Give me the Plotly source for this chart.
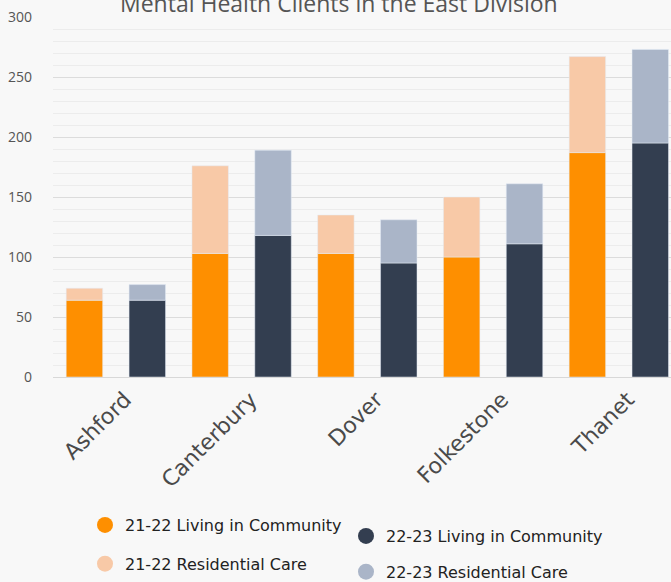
import plotly.graph_objects as go

categories = ["Ashford", "Canterbury", "Dover", "Folkestone", "Thanet"]
liv_2122 = [64, 103, 103, 100, 187]
res_2122 = [10, 73, 32, 50, 80]
liv_2223 = [64, 118, 95, 111, 195]
res_2223 = [13, 71, 36, 50, 78]

C_ORANGE = "#fe8f00"
C_PEACH = "#f8c9a7"
C_NAVY = "#333e50"
C_STEEL = "#aab5c8"

fig = go.Figure()
fig.add_trace(go.Bar(x=categories, y=liv_2122, offsetgroup="a", marker_color=C_ORANGE,
                     showlegend=False, name="21-22 Living in Community"))
fig.add_trace(go.Bar(x=categories, y=res_2122, offsetgroup="a", base=liv_2122, marker_color=C_PEACH,
                     showlegend=False, name="21-22 Residential Care"))
fig.add_trace(go.Bar(x=categories, y=liv_2223, offsetgroup="b", marker_color=C_NAVY,
                     showlegend=False, name="22-23 Living in Community"))
fig.add_trace(go.Bar(x=categories, y=res_2223, offsetgroup="b", base=liv_2223, marker_color=C_STEEL,
                     showlegend=False, name="22-23 Residential Care"))

legend_items = [
    ("21-22 Living in Community", C_ORANGE, "legend", "g1"),
    ("21-22 Residential Care", C_PEACH, "legend", "g2"),
    ("22-23 Living in Community", C_NAVY, "legend2", "g3"),
    ("22-23 Residential Care", C_STEEL, "legend2", "g4"),
]
for name, col, leg, grp in legend_items:
    fig.add_trace(go.Scatter(x=[categories[0]], y=[None], mode="markers", name=name,
                             marker=dict(color=col, size=24, symbol="circle"),
                             legend=leg, legendgroup=grp, showlegend=True, hoverinfo="skip"))

legfont = dict(family="DejaVu Sans", size=16, color="#222")
fig.update_layout(
    width=671, height=582,
    margin=dict(l=53, r=0, t=17, b=205, autoexpand=False),
    paper_bgcolor="#f8f8f8", plot_bgcolor="#f8f8f8",
    barmode="overlay",
    bargap=0.0, bargroupgap=0.42,
    title=dict(text="Mental Health Clients in the East Division",
               font=dict(family="Open Sans", size=23, color="#555"),
               x=0.505, xanchor="center", xref="container",
               y=1 - 4 / 582, yanchor="middle", yref="container"),
    xaxis=dict(type="category", categoryorder="array", categoryarray=categories,
               range=[-0.5, 4.415], tickangle=-45, automargin=False,
               tickfont=dict(family="DejaVu Sans", size=22, color="#4a4a4a"),
               ticklabelshift=9,
               showgrid=False, showline=True, linecolor="#d8d8d8", zeroline=False,
               ticks=""),
    yaxis=dict(type="linear", range=[0, 300], dtick=50, automargin=False,
               tickfont=dict(family="Open Sans", size=14, color="#555"),
               ticklabelstandoff=20,
               gridcolor="#dcdcdc", gridwidth=1, zeroline=False, ticks="",
               minor=dict(dtick=10, showgrid=True, gridcolor="#ececec", gridwidth=1)),
    legend=dict(x=85 / 671, y=1 - 508 / 582, xref="container", yref="container",
                xanchor="left", yanchor="top", font=legfont, bgcolor="rgba(0,0,0,0)",
                tracegroupgap=15, itemsizing="trace"),
    legend2=dict(x=346 / 671, y=1 - 519 / 582, xref="container", yref="container",
                 xanchor="left", yanchor="top", font=legfont, bgcolor="rgba(0,0,0,0)",
                 tracegroupgap=12, itemsizing="trace"),
)

fig.write_html("out.html", config={"displayModeBar": False},
               post_script="document.body.style.margin='0';document.body.style.background='#f8f8f8';")
